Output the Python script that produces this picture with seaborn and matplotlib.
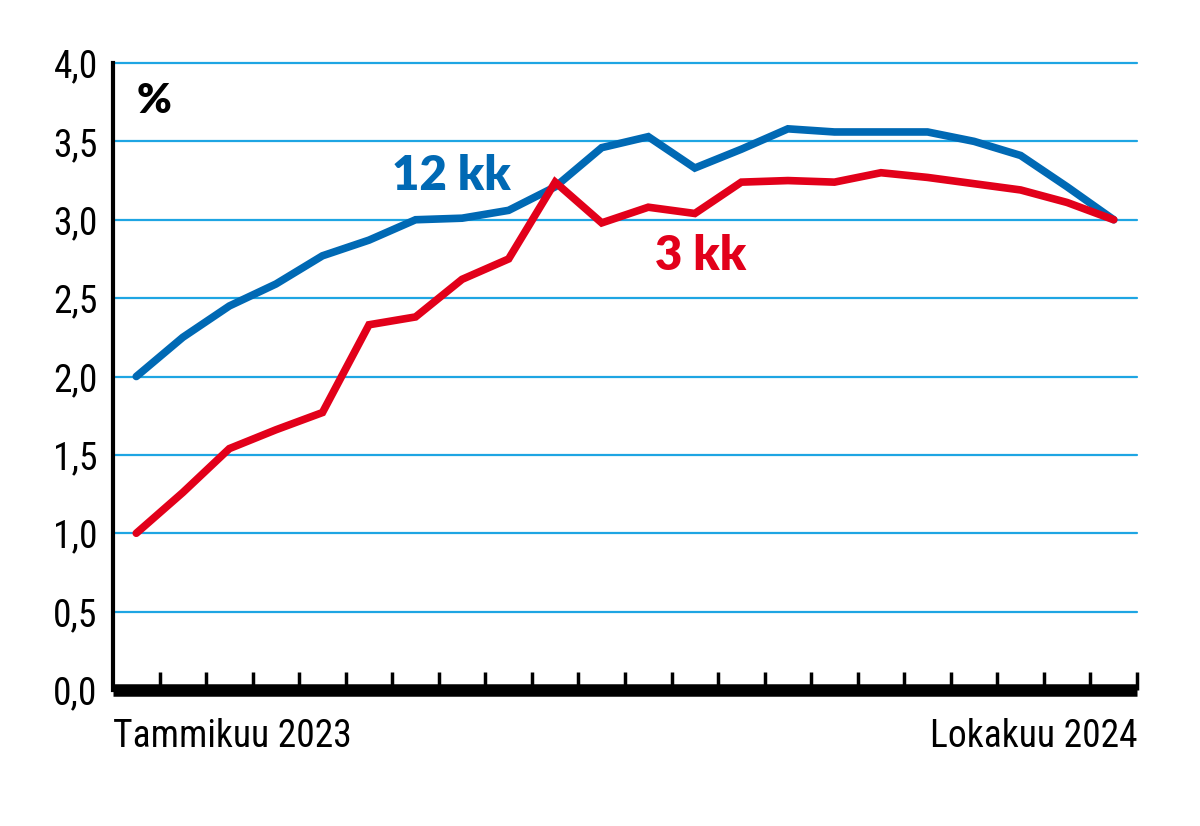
import matplotlib
matplotlib.use("Agg")
import matplotlib.pyplot as plt
import seaborn as sns
import pandas as pd
from matplotlib import font_manager

months = list(range(22))  # Tammikuu 2023 .. Lokakuu 2024
rate_12kk = [2.00, 2.25, 2.45, 2.59, 2.77, 2.87, 3.00, 3.01, 3.06, 3.21, 3.46, 3.53,
             3.33, 3.45, 3.58, 3.56, 3.56, 3.56, 3.50, 3.41, 3.21, 3.00]
rate_3kk = [1.00, 1.26, 1.54, 1.66, 1.77, 2.33, 2.38, 2.62, 2.75, 3.24, 2.98, 3.08,
            3.04, 3.24, 3.25, 3.24, 3.30, 3.27, 3.23, 3.19, 3.11, 3.00]
y_ticks = [0.0, 0.5, 1.0, 1.5, 2.0, 2.5, 3.0, 3.5, 4.0]
x_label_left = "Tammikuu 2023"
x_label_right = "Lokakuu 2024"

sns.set_style("white")
names = {f.name for f in font_manager.fontManager.ttflist}
pref = ["Roboto Condensed", "Liberation Sans Narrow", "Open Sans Condensed", "Roboto"]
base = next((p for p in pref if p in names), "DejaVu Sans")
heavy = "Lato" if "Lato" in names else "DejaVu Sans"
plt.rcParams['font.family'] = [base, 'DejaVu Sans']
plt.rcParams['text.color'] = 'black'
plt.rcParams['xtick.color'] = 'black'
plt.rcParams['ytick.color'] = 'black'

df = pd.DataFrame({
    "month": months * 2,
    "value": rate_12kk + rate_3kk,
    "series": ["12 kk"] * len(months) + ["3 kk"] * len(months),
})

BLUE = "#0069b4"
RED = "#e2001a"
GRID = "#1ea5e3"

fig = plt.figure(figsize=(12, 8.26), dpi=100)
ax = fig.add_axes([113/1200, 1 - 690/826, (1137-113)/1200, (690-63)/826])

for v in y_ticks[1:]:
    ax.axhline(v, color=GRID, lw=1.6, zorder=1, clip_on=False)

sns.lineplot(data=df, x="month", y="value", hue="series",
             palette={"12 kk": BLUE, "3 kk": RED}, linewidth=5.5,
             legend=False, ax=ax, zorder=3)
for ln in ax.lines:
    ln.set_solid_capstyle("round")
    ln.set_solid_joinstyle("miter")

ax.set_xlim(-0.5, 21.5)
ax.set_ylim(0, 4.0)
ax.set_xlabel("")
ax.set_ylabel("")

ax.set_yticks(y_ticks)
ax.set_yticklabels([f"{v:.1f}".replace(".", ",") for v in y_ticks], fontsize=27)
ax.tick_params(axis="y", left=False, length=0, pad=11)

ax.set_xticks([m + 0.5 for m in months[:-1]] + [21.5])
ax.set_xticklabels([])
ax.tick_params(axis="x", bottom=True, direction="in", length=13, width=2.5,
               color="black")

for s in ["top", "right"]:
    ax.spines[s].set_visible(False)
ax.spines["left"].set_linewidth(3)
ax.spines["left"].set_color("black")
ax.spines["bottom"].set_linewidth(9)
ax.spines["bottom"].set_color("black")
ax.spines["bottom"].set_capstyle("butt")

ax.text(-0.5, -0.045, x_label_left, transform=ax.get_xaxis_transform(),
        ha="left", va="top", fontsize=27)
ax.text(21.5, -0.045, x_label_right, transform=ax.get_xaxis_transform(),
        ha="right", va="top", fontsize=27)

ax.text(0.0, 3.76, "%", fontsize=30, fontweight="heavy", ha="left", va="center",
        family=[heavy, "DejaVu Sans"])
ax.text(5.5, 3.28, "12 kk", fontsize=34, fontweight="heavy", color=BLUE,
        ha="left", va="center", family=[heavy, "DejaVu Sans"])
ax.text(11.15, 2.77, "3 kk", fontsize=34, fontweight="heavy", color=RED,
        ha="left", va="center", family=[heavy, "DejaVu Sans"])

fig.savefig("out.png", dpi=100)
